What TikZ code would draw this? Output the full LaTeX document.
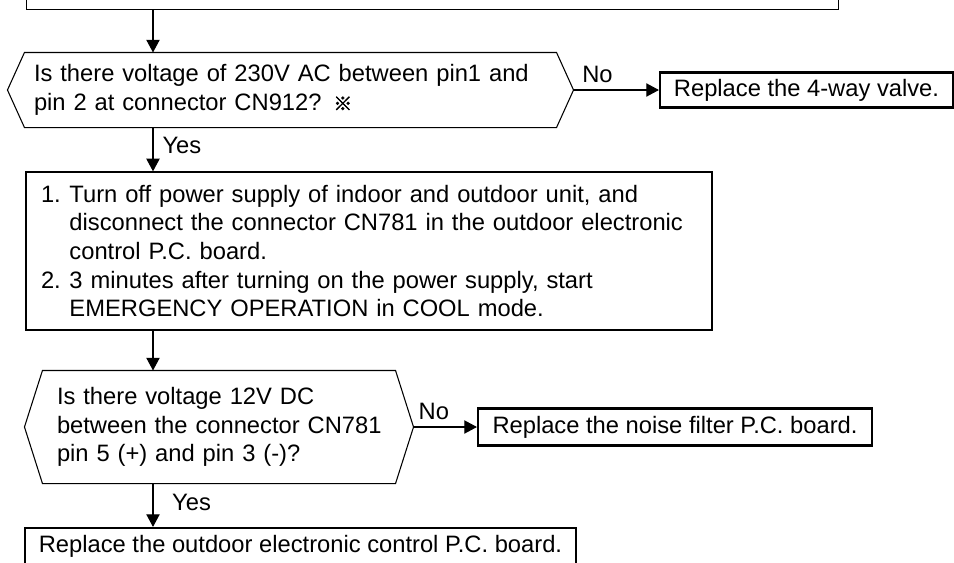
\documentclass[tikz,border=0pt]{standalone}
\usepackage{fontspec}
\setmainfont{Liberation Sans}
\newfontfamily\cjkfont[FakeBold=2.5]{Noto Sans CJK JP}
\usetikzlibrary{arrows.meta,calc}

\begin{document}
\begin{tikzpicture}[x=0.75pt,y=-0.75pt,>={Triangle[length=9.5pt,width=10pt]},
  line width=0.8pt,font=\fontsize{17.8}{21.4}\selectfont,
  procbox/.style={draw,line width=1pt,inner sep=0pt},
  resultbox/.style={draw,line width=1.6pt,inner sep=0pt},
  checkbox/.style={inner sep=0pt,align=left},
  answer/.style={inner sep=0pt}]
  \path[use as bounding box,clip] (0,0) rectangle (954,562);
  \coordinate (spine) at (153,0);
  % step before, cut off at the top
  \node[procbox,anchor=south west,minimum width=609pt,minimum height=60pt] (prev) at (26,10) {};
  % first check
  \node[checkbox,minimum width=398.25pt,minimum height=55.5pt,text width=384.75pt] (check1) at (290.5,90)
    {Is there voltage of 230V AC between pin1 and\\pin 2 at connector CN912? {\cjkfont\fontsize{14}{14}\selectfont ※}};
  \coordinate (check1w) at ($(check1.west)+(-17,0)$);
  \coordinate (check1e) at ($(check1.east)+(17,0)$);
  \draw (check1.north west) -- (check1.north east) -- (check1e) -- (check1.south east)
    -- (check1.south west) -- (check1w) -- cycle;
  \node[resultbox,minimum width=219.75pt,minimum height=26.25pt] (valve) at (806.5,90) {Replace the 4-way valve.};
  % reset and restart
  \node[procbox,minimum width=514.5pt,minimum height=118.5pt,text width=492pt,align=left] (reset) at (369,251)
    {\makebox[1.2em][l]{1.}Turn off power supply of indoor and outdoor unit, and\\
     \hspace*{1.2em}disconnect the connector CN781 in the outdoor electronic\\
     \hspace*{1.2em}control P.C. board.\\
     \makebox[1.2em][l]{2.}3 minutes after turning on the power supply, start\\
     \hspace*{1.2em}EMERGENCY OPERATION in COOL mode.};
  % second check
  \node[checkbox,minimum width=264pt,minimum height=84pt,text width=243pt] (check2) at (219,427)
    {Is there voltage 12V DC\\\mbox{between the connector CN781}\\pin 5 (+) and pin 3 (-)?};
  \coordinate (check2w) at ($(check2.west)+(-18,0)$);
  \coordinate (check2e) at ($(check2.east)+(18,0)$);
  \draw (check2.north west) -- (check2.north east) -- (check2e) -- (check2.south east)
    -- (check2.south west) -- (check2w) -- cycle;
  \node[resultbox,minimum width=295.5pt,minimum height=27.75pt] (filter) at (675,427) {Replace the noise filter P.C. board.};
  \node[resultbox,minimum width=413.25pt,minimum height=27pt] (board) at (300.5,546) {Replace the outdoor electronic control P.C. board.};
  % connectors
  \draw[->] (prev.south -| spine) -- (check1.north -| spine);
  \draw[->] (check1e) -- (check1e -| valve.west) node[answer,pos=0.28,above=5pt] {No};
  \draw[->] (check1.south -| spine) -- (reset.north -| spine) node[answer,pos=0.42,right=6.75pt] {Yes};
  \draw[->] (reset.south -| spine) -- (check2.north -| spine);
  \draw[->] (check2e) -- (check2e -| filter.west) node[answer,pos=0.32,above=5pt] {No};
  \draw[->] (check2.south -| spine) -- (board.north -| spine) node[answer,pos=0.43,right=14pt] {Yes};
\end{tikzpicture}
\end{document}
